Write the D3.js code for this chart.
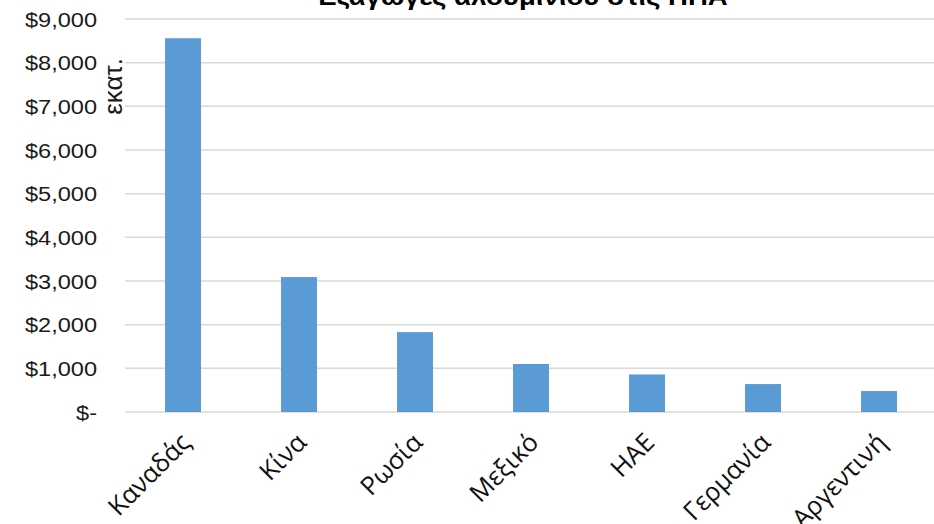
<!DOCTYPE html>
<html>
<head>
<meta charset="utf-8">
<script src="https://cdn.jsdelivr.net/npm/d3@7/dist/d3.min.js"></script>
<style>
  html, body { margin: 0; padding: 0; background: #fff; }
  svg { display: block; }
</style>
</head>
<body>
<svg id="chart" width="934" height="524"></svg>
<script>
// Aluminium exports to the USA, millions of dollars
const countries = ["Καναδάς", "Κίνα", "Ρωσία", "Μεξικό", "ΗΑΕ", "Γερμανία", "Αργεντινή"];
const exportValues = [8560, 3090, 1830, 1100, 860, 640, 480];
const yTicks = [0, 1000, 2000, 3000, 4000, 5000, 6000, 7000, 8000, 9000];
const titleText = "Εξαγωγές αλουμινίου στις ΗΠΑ";
const unitLabel = "εκατ.";

const svg = d3.select("#chart");
const plot = { left: 125, right: 937, top: 19, bottom: 412 };

const x = d3.scaleBand()
  .domain(countries)
  .range([plot.left, plot.right])
  .paddingInner(0.69)
  .paddingOuter(0.345);

const y = d3.scaleLinear()
  .domain([0, 9000])
  .range([plot.bottom, plot.top]);

const fmt = v => v === 0 ? "$-" : "$" + d3.format(",")(v);

// horizontal gridlines
svg.append("g")
  .selectAll("line")
  .data(yTicks)
  .join("line")
  .attr("x1", plot.left)
  .attr("x2", plot.right)
  .attr("y1", d => y(d))
  .attr("y2", d => y(d))
  .attr("stroke", "#d9d9d9")
  .attr("stroke-width", 1.5);

// y axis labels (slightly widened face)
const yAxis = d3.axisLeft(y).tickValues(yTicks).tickFormat(fmt).tickSize(0).tickPadding(0);
const gy = svg.append("g")
  .attr("transform", `translate(97,0)`)
  .call(yAxis);
gy.select(".domain").remove();
gy.selectAll("text")
  .attr("x", 0)
  .attr("font-family", "'Liberation Sans', Arial, sans-serif")
  .attr("font-size", 20.5)
  .attr("fill", "#1a1a1a")
  .attr("dy", "0.35em")
  .attr("transform", "scale(1.15,1)");

// bars
svg.append("g")
  .selectAll("rect")
  .data(countries.map((c, i) => ({ c, v: exportValues[i] })))
  .join("rect")
  .attr("x", d => x(d.c))
  .attr("width", x.bandwidth())
  .attr("y", d => y(d.v))
  .attr("height", d => y(0) - y(d.v))
  .attr("fill", "#5b9bd5");

// category labels, rotated
const xAxis = d3.axisBottom(x).tickSize(0).tickPadding(0);
const gx = svg.append("g")
  .attr("transform", `translate(0,${plot.bottom})`)
  .call(xAxis);
gx.select(".domain").remove();
gx.selectAll("text")
  .attr("y", 0)
  .attr("font-family", "'Open Sans', sans-serif")
  .attr("font-size", 25.5)
  .attr("fill", "#111")
  .attr("text-anchor", "end")
  .attr("dy", 0)
  .attr("transform", "translate(9,32) rotate(-45)");

// unit label
svg.append("text")
  .attr("transform", "translate(122,58) rotate(-90)")
  .attr("text-anchor", "end")
  .attr("font-family", "'Liberation Sans', Arial, sans-serif")
  .attr("font-size", 26)
  .attr("fill", "#1a1a1a")
  .text(unitLabel);

// title
svg.append("text")
  .attr("transform", "translate(523,5) scale(1.15,1)")
  .attr("text-anchor", "middle")
  .attr("font-family", "'Liberation Sans', Arial, sans-serif")
  .attr("font-weight", "bold")
  .attr("font-size", 24)
  .attr("fill", "#000")
  .text(titleText);
</script>
</body>
</html>
